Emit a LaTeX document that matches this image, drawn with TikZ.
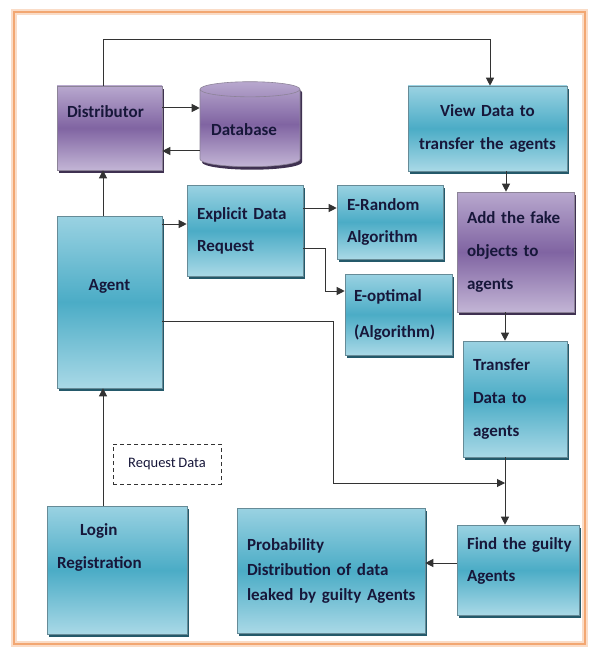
\documentclass[tikz,border=0pt]{standalone}
\usepackage{fontspec}
\setmainfont{Carlito}[WordSpace=0.8]
\usetikzlibrary{positioning, arrows.meta, shapes.geometric, shadows}

\definecolor{cyantop}{HTML}{9AD2E2}
\definecolor{cyanmid}{HTML}{4BACC6}
\definecolor{cyanshade}{HTML}{24596A}
\definecolor{purptop}{HTML}{B8A8CE}
\definecolor{purpmid}{HTML}{8064A2}
\definecolor{purpshade}{HTML}{3F3151}
\definecolor{inktext}{HTML}{17173A}
\definecolor{framecol}{HTML}{F2A772}

\begin{document}
\begin{tikzpicture}[x=1pt,y=-1pt,
  box/.style={draw=cyanshade!70,line width=0.6pt,top color=cyantop,bottom color=cyantop!85,middle color=cyanmid,
    drop shadow={shadow xshift=2pt,shadow yshift=-3pt,fill=cyanshade,opacity=1},
    font=\fontsize{17}{20}\selectfont\bfseries,text=inktext,align=left,inner xsep=10pt,inner ysep=4pt},
  pbox/.style={box,draw=purpshade!60,top color=purptop,bottom color=purptop!85,middle color=purpmid,
    drop shadow={shadow xshift=2pt,shadow yshift=-3pt,fill=purpshade,opacity=1}},
  dashbox/.style={draw=black!80,dashed,line width=1pt,dash pattern=on 4pt off 3pt,font=\fontsize{14.5}{17}\selectfont,text=inktext},
  arr/.style={-{Triangle[length=8pt,width=8pt]},line width=1pt,draw=black!80}]
\useasboundingbox (0,0) rectangle (591,647);
\draw[framecol!40,line width=6pt] (14,12) rectangle (585,644);
\draw[framecol,line width=2.5pt] (14,12) rectangle (585,644);

% upper row
\node[pbox,minimum height=84,text width=85] (dist) at (109.5,128) {Distributor\\[12pt]\mbox{}};
\node[cylinder,shape border rotate=90,aspect=0.25,minimum width=100,minimum height=85,
  draw=purpshade!60,line width=0.6pt,top color=purptop,bottom color=purptop!85,middle color=purpmid,
  drop shadow={shadow xshift=2pt,shadow yshift=-3pt,fill=purpshade,opacity=1},
  font=\fontsize{17}{20}\selectfont\bfseries,text=inktext] (db) at (250,129.5) {\hspace*{-12pt}Database};
\node[box,minimum height=85,text width=139,align=center] (view) at (487.5,128.5) {\mbox{View Data to}\\[13pt]\mbox{transfer the agents}};

% middle
\node[box,minimum height=172,text width=85,align=center] (agent) at (109.5,302) {Agent\\[14pt]\mbox{}};
\node[box,minimum height=91,text width=96] (expl) at (245,230.5) {\mbox{Explicit Data}\\[12pt]Request};
\node[box,minimum height=74,text width=86] (erand) at (390,222) {E-Random\\[12pt]Algorithm};
\node[box,minimum height=81,text width=89,inner xsep=9pt] (eopt) at (398.5,314.5) {E-optimal\\[16pt](Algorithm)};
\node[pbox,minimum height=120,text width=97] (fake) at (515.5,252) {\mbox{Add the fake}\\[13pt]\mbox{objects to}\\[13pt]agents};
\node[box,minimum height=116,text width=84] (trans) at (515,399) {Transfer\\[13pt]\mbox{Data to}\\[13pt]agents};

% lower row
\node[dashbox,minimum width=108,minimum height=40] (req) at (167,464) {Request Data};
\node[box,minimum height=128,text width=120] (login) at (117,570) {\hspace*{23pt}Login\\[13pt]Registration\\[27pt]\mbox{}};
\node[box,minimum height=125,text width=168] (prob) at (331,570.5) {Probability\\[5pt]\mbox{Distribution of data}\\[5pt]\mbox{leaked by guilty Agents}};
\node[box,minimum height=90,text width=102] (find) at (518,570) {\mbox{Find the guilty}\\[12pt]Agents\\[0pt]\mbox{}};

\coordinate (col) at (103,0);
\coordinate (join) at (505,483);

% connectors
\draw[arr] (dist.north -| col) -- ++(0,-46) -| ([xshift=2.5pt]view.north);
\draw[arr] (dist.east |- 0,108) -- (db.west |- 0,108);
\draw[arr] (db.west |- 0,151) -- (dist.east |- 0,151);
\draw[arr] (agent.north -| col) -- (dist.south -| col);
\draw[arr] (agent.east |- 0,224) -- (expl.west |- 0,224);
\draw[arr] (expl.east |- 0,208) -- (erand.west |- 0,208);
\draw[arr] (expl.east |- 0,248) -| (325,291) -- (eopt.west |- 0,291);
\draw[arr] (view.south -| 506,0) -- (fake.north -| 506,0);
\draw[arr] (fake.south -| join) -- (trans.north -| join);
\draw[arr] (agent.east |- 0,321) -| (333,483) -- (join);
\draw[arr] (trans.south -| join) -- (find.north -| join);
\draw[arr] (find.west |- 0,563) -- (prob.east |- 0,563);
\draw[arr] (login.north -| col) -- (agent.south -| col);
\end{tikzpicture}
\end{document}
